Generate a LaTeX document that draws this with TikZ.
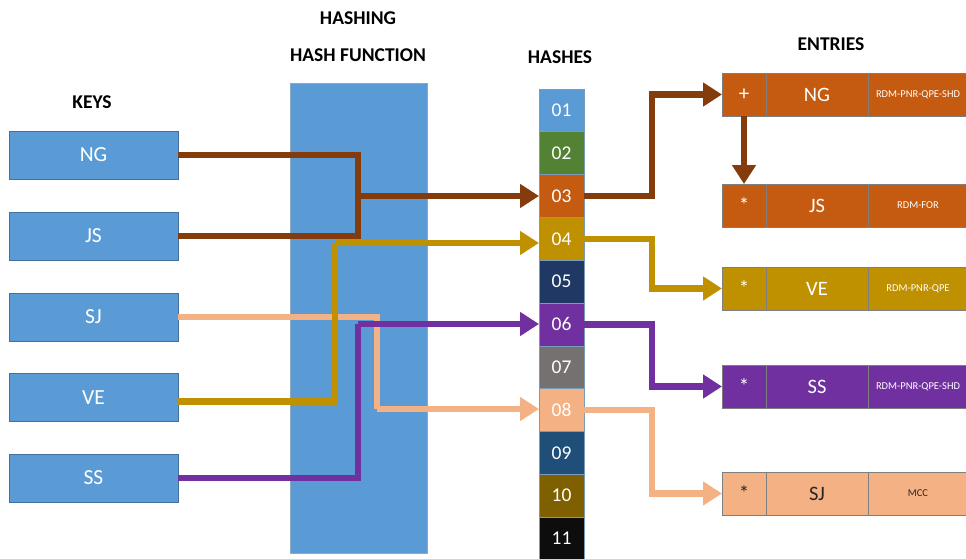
\documentclass[tikz,border=0pt]{standalone}
\usepackage{fontspec}
\setmainfont{Carlito}
\usetikzlibrary{arrows.meta,calc}
\definecolor{keyblue}{HTML}{5B9BD5}
\definecolor{keyedge}{HTML}{41719C}
\definecolor{cA}{HTML}{5B9BD5}
\definecolor{cB}{HTML}{548235}
\definecolor{cC}{HTML}{C55A11}
\definecolor{cD}{HTML}{BF9000}
\definecolor{cE}{HTML}{203864}
\definecolor{cF}{HTML}{7030A0}
\definecolor{cG}{HTML}{767171}
\definecolor{cH}{HTML}{F4B183}
\definecolor{cI}{HTML}{1F4E79}
\definecolor{cJ}{HTML}{7F6000}
\definecolor{cK}{HTML}{0D0D0D}
\definecolor{lbrown}{HTML}{843C0C}
\definecolor{lgold}{HTML}{BF9000}
\definecolor{lpeach}{HTML}{F4B183}
\definecolor{lpurple}{HTML}{7030A0}
\definecolor{edgegray}{HTML}{7F7F7F}
\definecolor{darktext}{HTML}{262626}
\begin{document}
\begin{tikzpicture}[x=1pt,y=-1pt,
  header/.style={font=\fontsize{19.5}{22}\selectfont\bfseries, text=black, inner sep=0pt},
  keybox/.style={draw=keyedge, line width=0.8pt, fill=keyblue, minimum width=169pt, minimum height=48pt,
    inner sep=0pt, outer sep=0pt, text=white, font=\fontsize{21.5}{24}\selectfont},
  hashbox/.style={draw=keyedge!70, line width=0.6pt, minimum width=45pt, minimum height=42.8pt,
    inner sep=0pt, outer sep=0pt, text=white, font=\fontsize{19.5}{22}\selectfont},
  ecell/.style={draw=edgegray, line width=0.8pt, minimum height=43pt, inner sep=0pt, outer sep=0pt, text=white},
  eA/.style={ecell, minimum width=44pt, anchor=north west, font=\fontsize{21}{22}\selectfont},
  eB/.style={ecell, minimum width=102pt, anchor=west, font=\fontsize{20.5}{22}\selectfont},
  eC/.style={ecell, minimum width=100pt, anchor=west, font=\fontsize{10.5}{12}\selectfont},
  conn/.style={line width=6.5pt, line join=miter},
  tip/.style={-{Triangle[length=19pt,width=23pt]}}
]
\useasboundingbox (0,0) rectangle (966,559);

% headers
\node[header] (thash) at (358,18) {HASHING};
\node[header] (thf) at (358,55) {HASH FUNCTION};
\node[header] (tkeys) at (92,102) {KEYS};
\node[header] (thashes) at (560,57) {HASHES};
\node[header] (tentries) at (831,44) {ENTRIES};

% hash function block
\node[draw=keyedge!60, line width=0.6pt, fill=keyblue, minimum width=137pt, minimum height=470pt,
  inner sep=0pt, outer sep=0pt] (hf) at (358.5,318) {};

% keys
\node[keybox] (ng) at (93.5,155) {NG};
\node[keybox] (js) at (93.5,236) {JS};
\node[keybox] (sj) at (93.5,317) {SJ};
\node[keybox] (ve) at (93.5,397.5) {VE};
\node[keybox] (ss) at (93.5,478) {SS};

% hashes
\foreach \n/\c [count=\i from 0] in {01/cA,02/cB,03/cC,04/cD,05/cE,06/cF,07/cG,08/cH,09/cI,10/cJ,11/cK}
  \node[hashbox, fill=\c] (h\n) at (561.5,{110.4+\i*42.8}) {\n};

% entries
\node[eA, fill=cC] (ngA) at (722,73) {+};
\node[eB, fill=cC] (ngB) at (ngA.east) {NG};
\node[eC, fill=cC] (ngC) at (ngB.east) {RDM-PNR-QPE-SHD};

\node[eA, fill=cC] (jsA) at (722,184) {*};
\node[eB, fill=cC] (jsB) at (jsA.east) {JS};
\node[eC, fill=cC] (jsC) at (jsB.east) {RDM-FOR};

\node[eA, fill=cD] (veA) at (722,267) {*};
\node[eB, fill=cD] (veB) at (veA.east) {VE};
\node[eC, fill=cD] (veC) at (veB.east) {RDM-PNR-QPE};

\node[eA, fill=cF] (ssA) at (722,365) {*};
\node[eB, fill=cF] (ssB) at (ssA.east) {SS};
\node[eC, fill=cF] (ssC) at (ssB.east) {RDM-PNR-QPE-SHD};

\node[eA, fill=cH, text=darktext] (sjA) at (722,472) {*};
\node[eB, fill=cH, text=darktext] (sjB) at (sjA.east) {SJ};
\node[eC, fill=cH, text=darktext] (sjC) at (sjB.east) {MCC};

% bend coordinates
\coordinate (jx) at (358,196);
\coordinate (gx) at (335,243);
\coordinate (px) at (377,409);
\coordinate (ux) at (358,324);
\coordinate (rx) at (652,0);

% peach (SJ)
\draw[conn, lpeach] (sj.east) -| (px);
\draw[conn, lpeach, tip] (px) -- (px -| h08.west);
\draw[conn, lpeach, tip] (h08.east) -| (rx |- sjA.west) -- (sjA.west);

% gold (VE)
\draw[conn, lgold] ([yshift=-4pt]ve.east) -| (gx);
\draw[conn, lgold, tip] (gx) -- (gx -| h04.west);
\draw[conn, lgold, tip] (h04.east) -| (rx |- veA.west) -- (veA.west);

% purple (SS)
\draw[conn, lpurple] (ss.east) -| (ux);
\draw[conn, lpurple, tip] (ux) -- (ux -| h06.west);
\draw[conn, lpurple, tip] (h06.east) -| (rx |- ssA.west) -- (ssA.west);

% brown (NG, JS)
\draw[conn, lbrown] (ng.east) -| (jx);
\draw[conn, lbrown] (js.east) -| (jx);
\draw[conn, lbrown, tip] (jx) -- (jx -| h03.west);
\draw[conn, lbrown, tip] (h03.east) -| (rx |- ngA.west) -- (ngA.west);
\draw[conn, lbrown, tip] (ngA.south) -- (jsA.north);
\end{tikzpicture}
\end{document}
